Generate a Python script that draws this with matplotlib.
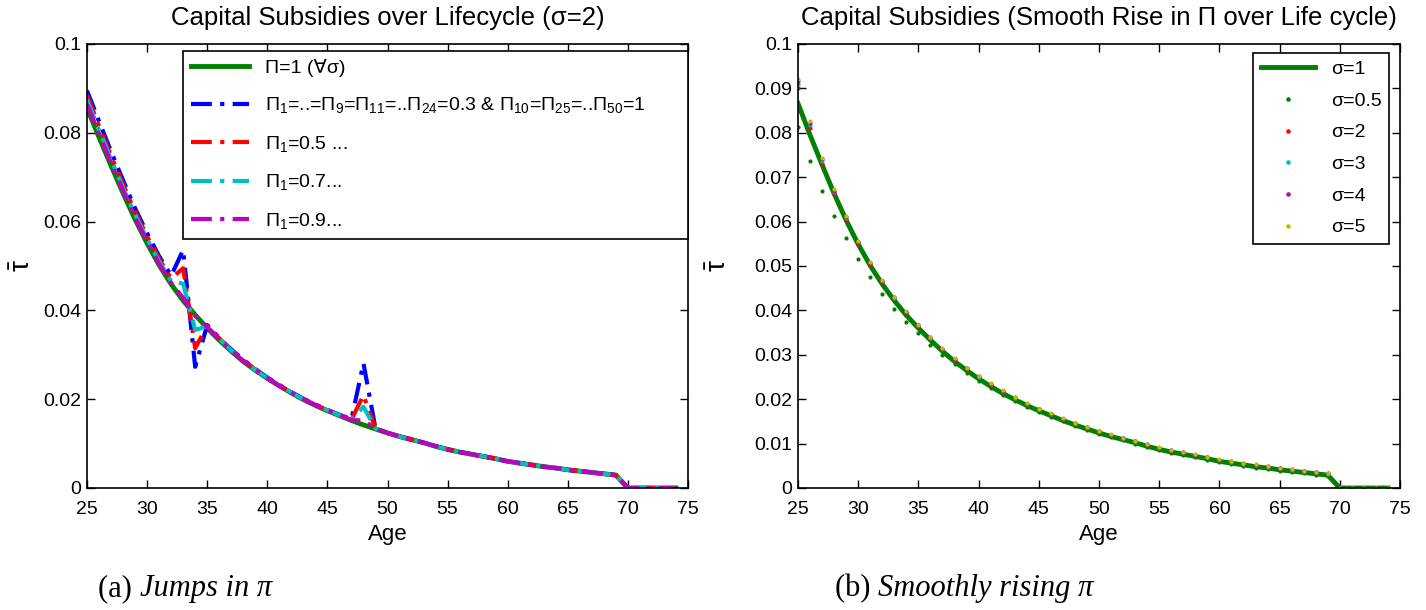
import matplotlib
matplotlib.use("Agg")
import matplotlib.pyplot as plt

#---------------------------------------------------
#  Data
#---------------------------------------------------
ages = list(range(25, 75))

# shared tail (ages 50-74), all series lie on top of each other there
left_tail = [0.0124, 0.0116, 0.0109, 0.0102, 0.0094, 0.0087, 0.0081, 0.0076, 0.0071, 0.0066,
             0.0060, 0.0056, 0.0052, 0.0048, 0.0045, 0.0041, 0.0038, 0.0035, 0.0032, 0.0029,
             0.0, 0.0, 0.0, 0.0, 0.0]

# left panel, ages 25-49
pi_one = [0.0856, 0.0790, 0.0726, 0.0664, 0.0605, 0.0551, 0.0502, 0.0459, 0.0422, 0.0390,
          0.0360, 0.0333, 0.0308, 0.0285, 0.0265, 0.0247, 0.0230, 0.0214, 0.0199, 0.0186,
          0.0174, 0.0163, 0.0152, 0.0142, 0.0133] + left_tail
pi_03 = [0.0895, 0.0826, 0.0758, 0.0693, 0.0630, 0.0574, 0.0522, 0.0478, 0.0536, 0.0273,
         0.0367, 0.0338, 0.0312, 0.0289, 0.0268, 0.0249, 0.0232, 0.0216, 0.0201, 0.0188,
         0.0176, 0.0165, 0.0155, 0.0281, 0.0134] + left_tail
pi_05 = [0.0885, 0.0815, 0.0748, 0.0684, 0.0622, 0.0567, 0.0516, 0.0472, 0.0495, 0.0315,
         0.0365, 0.0337, 0.0311, 0.0288, 0.0267, 0.0248, 0.0231, 0.0215, 0.0200, 0.0187,
         0.0175, 0.0164, 0.0154, 0.0209, 0.0134] + left_tail
pi_07 = [0.0875, 0.0806, 0.0740, 0.0676, 0.0616, 0.0561, 0.0510, 0.0466, 0.0460, 0.0356,
         0.0364, 0.0336, 0.0310, 0.0287, 0.0266, 0.0248, 0.0231, 0.0215, 0.0200, 0.0187,
         0.0175, 0.0164, 0.0154, 0.0183, 0.0134] + left_tail
pi_09 = [0.0865, 0.0798, 0.0732, 0.0670, 0.0610, 0.0555, 0.0505, 0.0462, 0.0428, 0.0388,
         0.0363, 0.0335, 0.0309, 0.0286, 0.0266, 0.0247, 0.0230, 0.0215, 0.0200, 0.0187,
         0.0175, 0.0164, 0.0153, 0.0152, 0.0134] + left_tail

# right panel
sig1 = [0.0866, 0.0795, 0.0728, 0.0663, 0.0603, 0.0549, 0.0501, 0.0459, 0.0422, 0.0389,
        0.0360, 0.0333, 0.0308, 0.0285, 0.0265, 0.0246, 0.0229, 0.0213, 0.0199, 0.0186,
        0.0174, 0.0163, 0.0152, 0.0142, 0.0133, 0.0124, 0.0116, 0.0109, 0.0102, 0.0094,
        0.0087, 0.0081, 0.0076, 0.0071, 0.0066, 0.0060, 0.0056, 0.0052, 0.0048, 0.0045,
        0.0041, 0.0038, 0.0035, 0.0032, 0.0029, 0.0, 0.0, 0.0, 0.0, 0.0]
sig05 = [0.0812, 0.0736, 0.0670, 0.0613, 0.0562, 0.0515, 0.0475, 0.0438, 0.0404, 0.0375,
         0.0348, 0.0323, 0.0300, 0.0279, 0.0260, 0.0242, 0.0226, 0.0210, 0.0196, 0.0183,
         0.0171, 0.0160, 0.0150, 0.0140, 0.0131, 0.0122, 0.0114, 0.0107, 0.0100, 0.0092,
         0.0085, 0.0079, 0.0074, 0.0069, 0.0064, 0.0058, 0.0054, 0.0050, 0.0046, 0.0043,
         0.0039, 0.0036, 0.0033, 0.0030, 0.0027, 0.0, 0.0, 0.0, 0.0, 0.0]
sig2 = [0.0901, 0.0810, 0.0730, 0.0662, 0.0604, 0.0550, 0.0503, 0.0464, 0.0427, 0.0394,
        0.0364, 0.0337, 0.0312, 0.0289, 0.0269, 0.0250, 0.0233, 0.0217, 0.0202, 0.0189,
        0.0177, 0.0166, 0.0155, 0.0145, 0.0136, 0.0127, 0.0119, 0.0112, 0.0105, 0.0097,
        0.0090, 0.0084, 0.0079, 0.0074, 0.0069, 0.0063, 0.0059, 0.0055, 0.0051, 0.0048,
        0.0044, 0.0041, 0.0038, 0.0035, 0.0032, 0.0, 0.0, 0.0, 0.0, 0.0]
sig3 = [0.0911, 0.0818, 0.0737, 0.0667, 0.0608, 0.0553, 0.0506, 0.0466, 0.0429, 0.0396,
        0.0366, 0.0338, 0.0313, 0.0290, 0.0270, 0.0251, 0.0234, 0.0218, 0.0203, 0.0190,
        0.0178, 0.0166, 0.0156, 0.0146, 0.0137, 0.0128, 0.0120, 0.0112, 0.0105, 0.0098,
        0.0091, 0.0085, 0.0080, 0.0075, 0.0069, 0.0064, 0.0059, 0.0055, 0.0052, 0.0048,
        0.0045, 0.0041, 0.0038, 0.0035, 0.0032, 0.0, 0.0, 0.0, 0.0, 0.0]
sig4 = [0.0916, 0.0822, 0.0740, 0.0670, 0.0610, 0.0555, 0.0507, 0.0467, 0.0430, 0.0397,
        0.0367, 0.0339, 0.0314, 0.0291, 0.0270, 0.0252, 0.0235, 0.0219, 0.0204, 0.0190,
        0.0178, 0.0167, 0.0156, 0.0146, 0.0137, 0.0128, 0.0120, 0.0113, 0.0106, 0.0098,
        0.0091, 0.0085, 0.0080, 0.0075, 0.0070, 0.0064, 0.0060, 0.0056, 0.0052, 0.0049,
        0.0045, 0.0042, 0.0039, 0.0036, 0.0033, 0.0, 0.0, 0.0, 0.0, 0.0]
sig5 = [0.0921, 0.0826, 0.0744, 0.0673, 0.0612, 0.0557, 0.0509, 0.0468, 0.0431, 0.0398,
        0.0368, 0.0340, 0.0315, 0.0292, 0.0271, 0.0253, 0.0236, 0.0220, 0.0205, 0.0191,
        0.0179, 0.0168, 0.0157, 0.0147, 0.0138, 0.0129, 0.0121, 0.0113, 0.0106, 0.0099,
        0.0092, 0.0086, 0.0081, 0.0076, 0.0070, 0.0065, 0.0060, 0.0056, 0.0053, 0.0049,
        0.0046, 0.0042, 0.0039, 0.0036, 0.0033, 0.0, 0.0, 0.0, 0.0, 0.0]

left_labels = ["Π=1 (∀σ)",
               "Π$_1$=..=Π$_9$=Π$_{11}$=..Π$_{24}$=0.3 & Π$_{10}$=Π$_{25}$=..Π$_{50}$=1",
               "Π$_1$=0.5 ...",
               "Π$_1$=0.7...",
               "Π$_1$=0.9..."]
right_labels = ["σ=1", "σ=0.5", "σ=2", "σ=3", "σ=4", "σ=5"]

#---------------------------------------------------
#  Graphs
#---------------------------------------------------
plt.rcParams['font.family'] = ['Liberation Sans', 'DejaVu Sans']
plt.rcParams['mathtext.fontset'] = 'custom'
plt.rcParams['mathtext.rm'] = 'Liberation Sans'
plt.rcParams['mathtext.it'] = 'Liberation Sans'
plt.rcParams['mathtext.default'] = 'regular'

green = '#008000'
dash = (0, (5, 2, 1, 2))

fig = plt.figure(figsize=(14.26, 6.10), dpi=100)
ax1 = fig.add_axes([87/1426, 122/610, 601/1426, 444/610])
ax2 = fig.add_axes([798/1426, 122/610, 602/1426, 444/610])

ax1.plot(ages, pi_one, color=green, lw=3.5, label=left_labels[0])
ax1.plot(ages, pi_03, color='#0000FF', lw=3, ls=dash, label=left_labels[1])
ax1.plot(ages, pi_05, color='#FF0000', lw=3, ls=dash, label=left_labels[2])
ax1.plot(ages, pi_07, color='#00BFBF', lw=3, ls=dash, label=left_labels[3])
ax1.plot(ages, pi_09, color='#BF00BF', lw=3, ls=dash, label=left_labels[4])

ax2.plot(ages, sig1, color=green, lw=3.5, label=right_labels[0])
for vals, col, lab in zip([sig05, sig2, sig3, sig4, sig5],
                          [green, '#FF0000', '#00BFBF', '#BF00BF', '#BFBF00'],
                          right_labels[1:]):
    ax2.plot(ages, vals, ls='none', marker='o', ms=3, mew=0, color=col, label=lab)

for ax in (ax1, ax2):
    ax.set_xlim(25, 75)
    ax.set_ylim(0, 0.1)
    ax.set_xticks(range(25, 80, 5))
    ax.tick_params(direction='in', top=True, right=True, length=6, width=1,
                   labelsize=14, pad=4)
    ax.tick_params(axis='x', pad=9)
    for s in ax.spines.values():
        s.set_linewidth(1.2)
    ax.set_xlabel('Age', fontsize=16, labelpad=5)
    ax.set_ylabel(r'$\bar{\tau}$', fontsize=20)

ax1.set_yticks([0, 0.02, 0.04, 0.06, 0.08, 0.1])
ax1.set_yticklabels(['0', '0.02', '0.04', '0.06', '0.08', '0.1'])
ax2.set_yticks([i / 100 for i in range(11)])
ax2.set_yticklabels(['0'] + ['0.0%d' % i for i in range(1, 10)] + ['0.1'])
ax1.yaxis.set_label_coords(-0.085, 0.5)
ax2.yaxis.set_label_coords(-0.11, 0.5)

ax1.set_title('Capital Subsidies over Lifecycle (σ=2)', fontsize=18.5, pad=13.5)
ax2.set_title('Capital Subsidies (Smooth Rise in Π over Life cycle)', fontsize=18.5, pad=13.5)

leg1 = ax1.legend(loc='upper left', bbox_to_anchor=(0.16, 0.56, 0.84, 0.424), mode='expand',
                  fontsize=14, handlelength=3.0, labelspacing=0.95, borderaxespad=0,
                  fancybox=False, framealpha=1, edgecolor='black')
leg1.get_frame().set_linewidth(1.2)
leg2 = ax2.legend(loc='upper right', bbox_to_anchor=(0.982, 0.980), fontsize=14,
                  handlelength=2.8, labelspacing=0.72, borderaxespad=0, markerscale=1.1,
                  fancybox=False, framealpha=1, edgecolor='black')
leg2.get_frame().set_linewidth(1.2)

# captions: upright "(a)" followed by italic text
cap_a = fig.text(98/1426, 1 - 596/610, '(a) ', fontsize=22, family='Liberation Serif',
                 va='baseline')
cap_b = fig.text(835/1426, 1 - 596/610, '(b) ', fontsize=22, family='Liberation Serif',
                 va='baseline')
fig.canvas.draw()
for cap, txt in [(cap_a, 'Jumps in π'), (cap_b, 'Smoothly rising π')]:
    bb = cap.get_window_extent()
    fig.text(bb.x1 / fig.bbox.width, 1 - 596/610, txt, fontsize=22,
             family='Liberation Serif', style='italic', va='baseline')

plt.savefig('out.png', dpi=100)
